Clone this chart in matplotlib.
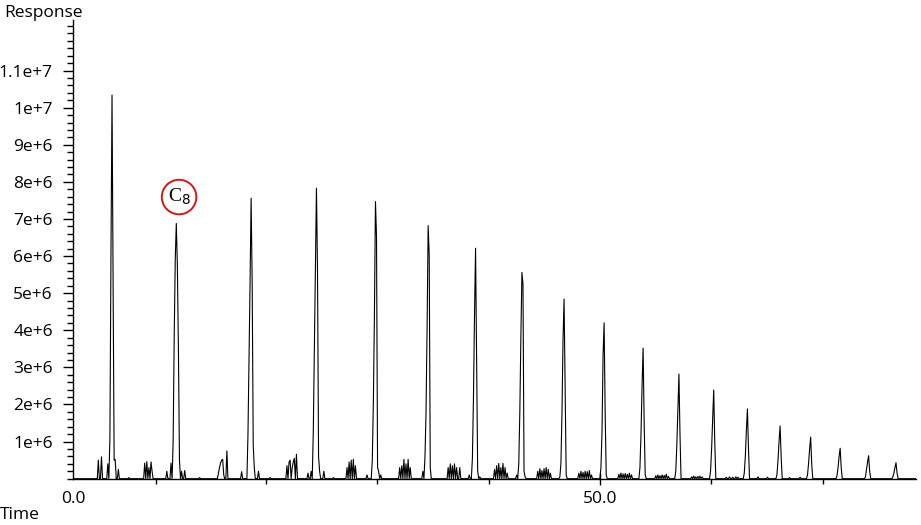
import numpy as np
import matplotlib
matplotlib.use("Agg")
import matplotlib.pyplot as plt
from matplotlib.ticker import FixedLocator, MultipleLocator

# sampling interval of the detector trace (minutes)
DT = 0.1

# n-alkane peaks: start time of each peak and its sampled responses (x 1e6)
peak_starts = [3.4, 9.4, 16.5, 22.7, 28.3, 33.3, 37.8, 42.2, 46.2, 50.0,
               53.7, 57.1, 60.4, 63.6, 66.7, 69.6, 72.4, 75.1, 77.7]
peak_profiles = [
    [0, 1.1, 6.08, 10.34, 5.16, 0.5, 0],
    [0, 1.0, 3.8, 5.9, 6.88, 5.75, 3.5, 0.5, 0],
    [0, 1.18, 3.15, 5.28, 7.56, 5.3, 0.9, 0.3, 0],
    [0, 1.27, 3.42, 5.71, 7.83, 5.6, 0.6, 0.2, 0],
    [0, 0.5, 2.04, 4.37, 7.47, 6.52, 0.3, 0],
    [0, 0.6, 1.8, 4.06, 6.82, 6.03, 0.3, 0],
    [0, 0.55, 2.17, 4.41, 6.21, 3.11, 0.2, 0],
    [0, 0.4, 1.79, 3.81, 5.56, 5.24, 0.2, 0],
    [0, 0.4, 1.76, 3.74, 4.84, 2.39, 0.1, 0],
    [0, 0.31, 1.27, 3.33, 4.2, 1.76, 0.1, 0],
    [0, 0.3, 1.2, 2.5, 3.52, 1.5, 0.1, 0],
    [0, 0.2, 0.9, 1.9, 2.82, 1.2, 0],
    [0, 0.2, 0.8, 1.6, 2.39, 1.0, 0],
    [0, 0.15, 0.6, 1.3, 1.88, 0.8, 0],
    [0, 0.1, 0.5, 1.0, 1.42, 0.6, 0],
    [0, 0.1, 0.4, 0.8, 1.12, 0.4, 0],
    [0, 0.08, 0.3, 0.6, 0.82, 0.3, 0],
    [0, 0.05, 0.25, 0.45, 0.62, 0.2, 0],
    [0, 0.05, 0.15, 0.3, 0.43, 0.15, 0],
]
c8_index = 1

# minor peaks along the baseline (time in minutes, response x 1e6)
minor_times = [
    2.4, 2.7, 3.3, 4.0, 4.3, 5.3,
    6.8, 7.0, 7.2, 7.4, 7.5, 8.9, 9.3, 10.3, 10.6, 12.0,
    13.8, 13.9, 14.0, 14.1, 14.2, 14.3, 14.6, 16.0, 17.6, 18.7,
    20.3, 20.5, 20.6, 20.8, 20.9, 21.0, 21.2, 22.3, 22.6, 23.8, 24.7,
    26.0, 26.2, 26.4, 26.6, 26.8, 27.9, 29.0, 29.2,
    31.0, 31.2, 31.4, 31.6, 31.8, 32.0, 33.2,
    35.6, 35.8, 36.0, 36.2, 36.4, 36.7, 37.6, 38.6,
    40.0, 40.2, 40.4, 40.6, 40.8, 41.0, 41.2, 42.1, 42.9,
    44.1, 44.3, 44.5, 44.7, 44.9, 45.1, 45.3, 46.2,
    48.0, 48.2, 48.4, 48.6, 48.8, 49.0, 49.2,
    51.8, 52.0, 52.2, 52.4, 52.6, 52.8, 53.0,
    55.3, 55.5, 55.7, 55.9, 56.1, 56.3, 56.5,
    58.7, 58.9, 59.1, 59.3, 59.5, 59.7,
    62.0, 62.3, 62.6, 62.9, 63.1, 65.0, 65.9, 68.0, 69.0,
]
minor_heights = [
    0.5, 0.59, 0.4, 0.52, 0.25, 0.03,
    0.42, 0.46, 0.3, 0.45, 0.2, 0.2, 0.42, 0.2, 0.22, 0.03,
    0.15, 0.3, 0.42, 0.5, 0.52, 0.1, 0.75, 0.19, 0.2, 0.03,
    0.35, 0.45, 0.5, 0.3, 0.45, 0.55, 0.66, 0.15, 0.2, 0.2, 0.03,
    0.3, 0.45, 0.5, 0.52, 0.35, 0.1, 0.2, 0.1,
    0.3, 0.35, 0.52, 0.4, 0.52, 0.3, 0.2,
    0.3, 0.4, 0.35, 0.4, 0.3, 0.3, 0.1, 0.05,
    0.25, 0.35, 0.41, 0.3, 0.41, 0.3, 0.15, 0.1, 0.05,
    0.2, 0.27, 0.22, 0.27, 0.3, 0.25, 0.15, 0.05,
    0.15, 0.2, 0.17, 0.2, 0.19, 0.22, 0.1,
    0.12, 0.15, 0.13, 0.14, 0.12, 0.15, 0.1,
    0.08, 0.1, 0.08, 0.1, 0.09, 0.12, 0.06,
    0.05, 0.07, 0.05, 0.06, 0.07, 0.05,
    0.04, 0.05, 0.04, 0.05, 0.04, 0.05, 0.04, 0.03, 0.04,
]

y_major = [1e6, 2e6, 3e6, 4e6, 5e6, 6e6, 7e6, 8e6, 9e6, 1e7, 1.1e7]
y_labels = ["1e+6", "2e+6", "3e+6", "4e+6", "5e+6", "6e+6", "7e+6",
            "8e+6", "9e+6", "1e+7", "1.1e+7"]
x_major = [0.0, 50.0]
x_labels = ["0.0", "50.0"]
x_minor = [7.84, 18.31, 28.84, 39.47, 60.53, 71.13]

# assemble the trace on the sampling grid
time = np.round(np.arange(0, 80.0 + DT / 2, DT), 1)
resp = np.zeros_like(time)
for t, h in zip(minor_times, minor_heights):
    i = int(round(t / DT))
    resp[i] = max(resp[i], h * 1e6)
for t0, prof in zip(peak_starts, peak_profiles):
    i = int(round(t0 / DT))
    seg = np.array(prof) * 1e6
    resp[i:i + len(seg)] = np.maximum(resp[i:i + len(seg)], seg)

plt.rcParams['font.family'] = ['Open Sans', 'DejaVu Sans']

fig = plt.figure(figsize=(9.21, 5.25), dpi=100)
ax = fig.add_axes([0.0793, 0.0882, 0.9153, 0.8728])
ax.plot(time, resp, color="black", lw=0.8)

ax.set_xlim(0, 80)
ax.set_ylim(0, 1.235e7)
for s in ["top", "right"]:
    ax.spines[s].set_visible(False)
for s in ["left", "bottom"]:
    ax.spines[s].set_linewidth(1.0)

ax.yaxis.set_major_locator(FixedLocator(y_major))
ax.set_yticklabels(y_labels)
ax.yaxis.set_minor_locator(MultipleLocator(2e5))
ax.tick_params(axis="y", which="major", length=7, width=1, pad=7.5, labelsize=12.5)
ax.tick_params(axis="y", which="minor", length=4.5, width=1)

ax.xaxis.set_major_locator(FixedLocator(x_major))
ax.set_xticklabels(x_labels)
ax.xaxis.set_minor_locator(FixedLocator(x_minor))
ax.tick_params(axis="x", which="major", direction="inout", length=9, width=1,
               pad=4.5, labelsize=12.5)
ax.tick_params(axis="x", which="minor", length=3.5, width=1)
ax.xaxis.get_major_ticks()[0].tick1line.set_visible(False)

# label the C8 peak
c8_t = peak_starts[c8_index] + DT * int(np.argmax(peak_profiles[c8_index]))
c8_h = max(peak_profiles[c8_index]) * 1e6
ax.annotate("C$_8$", xy=(c8_t, c8_h), xytext=(2, 19), textcoords="offset points",
            ha="center", va="center", fontsize=14, family="Liberation Serif",
            bbox=dict(boxstyle="circle,pad=0.3", fc="white", ec="#cc1a1a", lw=1.4))

fig.text(0.047, 0.968, "Response", ha="center", va="baseline", fontsize=12.5)
fig.text(0.0, 0.011, "Time", ha="left", va="baseline", fontsize=12.5)

fig.savefig("out.png", dpi=100)
